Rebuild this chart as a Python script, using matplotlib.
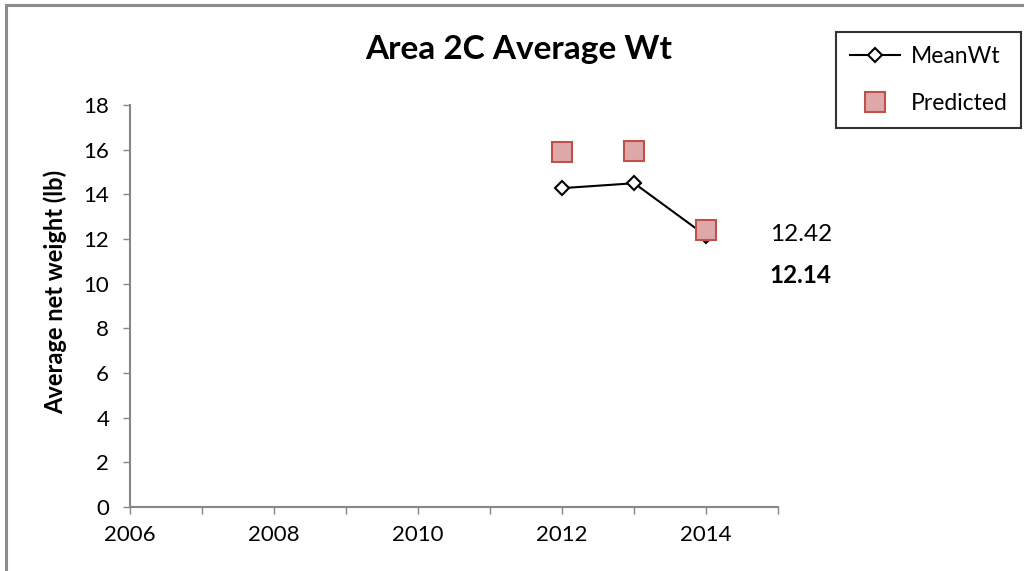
import matplotlib
matplotlib.use("Agg")
from matplotlib import pyplot as plt
from matplotlib.patches import Rectangle

plt.rcParams['font.family'] = ['Lato', 'DejaVu Sans']

years = [2012, 2013, 2014]
mean_wt = [14.28, 14.50, 12.14]
predicted = [15.90, 15.95, 12.42]
x_ticks = [2006, 2008, 2010, 2012, 2014]
y_ticks = [0, 2, 4, 6, 8, 10, 12, 14, 16, 18]

fig = plt.figure(figsize=(10.24, 5.71), dpi=100)
ax = fig.add_axes([0.127, 0.112, 0.633, 0.704])

# outer chart border (grey)
fig.patches.append(Rectangle((6/1024, -0.05), 1.1, 1 - 5/571 + 0.05, transform=fig.transFigure,
                             fill=False, edgecolor='#8c8c8c', linewidth=2.2))

ax.plot(years, mean_wt, color='black', linewidth=1.5, marker='D', markersize=7,
        markerfacecolor='white', markeredgecolor='black', markeredgewidth=1.5,
        label='MeanWt', zorder=3)
ax.plot(years, predicted, linestyle='none', marker='s', markersize=14,
        markerfacecolor='#dea8a8', markeredgecolor='#c0504d', markeredgewidth=1.5,
        label='Predicted', zorder=4)

ax.set_xlim(2006, 2015)
ax.set_ylim(0, 18)
ax.set_xticks(range(2006, 2016))
ax.set_xticklabels([str(y) if y in x_ticks else '' for y in range(2006, 2016)])
ax.set_yticks(y_ticks)

for side in ['top', 'right']:
    ax.spines[side].set_visible(False)
for side in ['left', 'bottom']:
    ax.spines[side].set_color('#868686')
    ax.spines[side].set_linewidth(1.5)
ax.tick_params(axis='both', direction='out', length=5, width=1, color='#868686',
               labelsize=16)
ax.tick_params(axis='y', pad=10)
ax.tick_params(axis='x', pad=8)

ax.set_ylabel('Average net weight (lb)', fontsize=17, fontweight='bold')
ax.yaxis.set_label_coords(-0.097, 0.535)
fig.text(519/1024, 1 - 50/571, 'Area 2C Average Wt', fontsize=24, fontweight='bold',
         ha='center', va='center')

ax.text(2014.88, 12.2, '12.42', fontsize=17.5, ha='left', va='center', clip_on=False)
ax.text(2014.88, 10.35, '12.14', fontsize=17.5, fontweight='bold', ha='left', va='center',
        clip_on=False)

leg = fig.legend(loc='upper left', bbox_to_anchor=(836/1024, 1 - 32/571), fontsize=16.5,
                 frameon=True, fancybox=False, edgecolor='black', handlelength=2.2,
                 borderpad=0.6, labelspacing=1.15, handletextpad=0.45, borderaxespad=0)
leg.get_frame().set_linewidth(1.5)

fig.savefig('out.png', dpi=100)
